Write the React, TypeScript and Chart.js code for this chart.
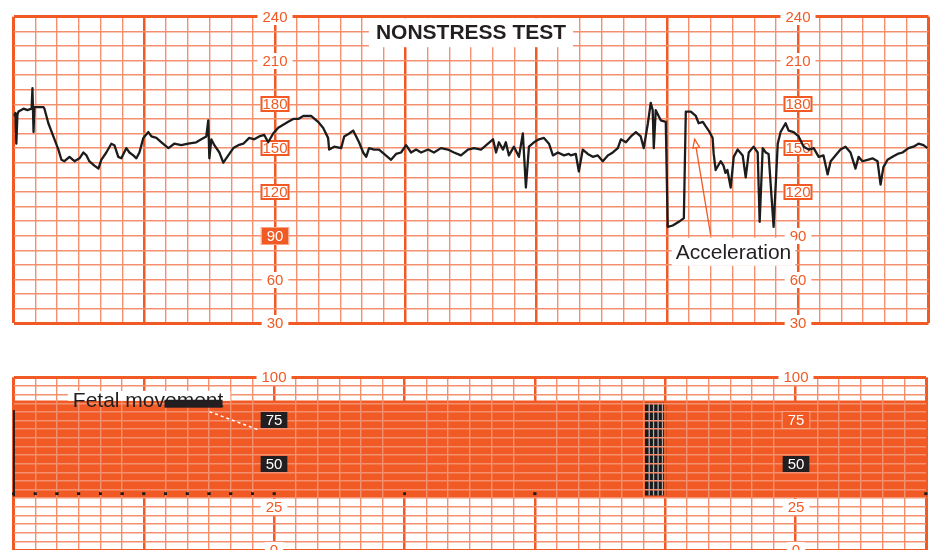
import React, { useEffect, useRef } from "react";
import { Chart, registerables } from "chart.js";
Chart.register(...registerables);

// ---------- data ----------
// Fetal heart rate trace: time in seconds, heart rate in bpm
const fhrTime = [
  0, 0.9, 1.3, 1.8, 2.3, 4.6, 6.4, 8.3, 8.7, 9.2, 9.6, 11.9, 13.8, 14.2, 16.0, 18.3, 20.6, 22.0, 23.4, 25.7,
  28.0, 30.3, 32.1, 33.5, 34.8, 37.1, 39.0, 40.3, 42.6, 44.9, 46.3, 48.1, 49.5, 51.8, 53.2, 55.0, 56.4, 57.8, 59.6, 61.9,
  63.3, 65.6, 67.9, 71.1, 73.8, 77.0, 80.2, 83.9, 86.2, 88.5, 89.4, 89.9, 90.8, 92.2, 94.5, 96.3, 98.6, 100.9, 103.2, 105.5,
  108.2, 110.5, 112.8, 115.1, 116.9, 119.2, 121.5, 123.8, 126.1, 128.4, 130.7, 133.0, 136.6, 139.8, 142.1, 144.4, 144.9, 147.2, 150.4, 151.8,
  154.1, 155.9, 157.3, 158.6, 160.5, 161.9, 163.2, 165.5, 167.8, 170.1, 173.3, 175.6, 177.9, 180.2, 182.5, 184.8, 187.1, 190.3, 193.0, 196.2,
  199.4, 202.2, 205.4, 208.6, 211.4, 214.6, 217.8, 220.1, 221.5, 222.8, 224.7, 226.0, 227.4, 229.7, 232.0, 233.8, 235.2, 236.6, 238.9, 241.2,
  243.5, 245.8, 247.6, 249.9, 252.7, 254.9, 255.8, 258.1, 259.5, 261.3, 263.6, 265.9, 268.2, 270.5, 272.8, 275.1, 277.4, 278.8, 281.1, 283.4,
  285.7, 287.9, 289.3, 291.2, 292.5, 293.4, 293.9, 294.8, 297.1, 299.4, 300.3, 302.6, 305.4, 307.7, 308.6, 310.9, 313.2, 314.5, 316.4, 317.7,
  319.1, 320.9, 321.4, 322.3, 324.6, 325.9, 326.8, 327.7, 329.2, 330.6, 332.4, 334.7, 336.1, 337.5, 339.7, 341.6, 342.5, 343.9, 345.3, 346.6,
  348.9, 350.8, 352.1, 354.4, 355.8, 358.1, 360.4, 362.7, 365.0, 367.3, 369.6, 371.8, 373.7, 375.1, 377.3, 379.6, 381.9, 384.2, 386.5, 387.9,
  389.7, 392.0, 394.3, 396.6, 398.0, 399.3, 401.2, 403.5, 405.8, 408.1, 410.8, 413.1, 415.4, 417.7, 419.5,
];
const fhrBpm = [
  172, 174, 153, 173, 175, 177, 176, 177, 191, 161, 178, 178, 178, 177, 167, 158, 149, 142, 141, 144,
  141, 143, 147, 145, 141, 138, 136, 142, 147, 153, 152, 144, 143, 150, 147, 145, 143, 147, 157, 161,
  158, 157, 154, 150, 153, 152, 153, 154, 156, 158, 169, 143, 156, 152, 147, 140, 145, 150, 152, 153,
  157, 156, 158, 159, 154, 160, 164, 166, 168, 170, 170, 172, 172, 168, 164, 157, 149, 151, 150, 158,
  160, 162, 158, 154, 147, 144, 150, 149, 149, 146, 142, 146, 147, 152, 147, 149, 147, 149, 147, 150,
  149, 147, 145, 149, 150, 149, 153, 156, 147, 154, 149, 154, 145, 151, 144, 160, 123, 151, 154, 156,
  157, 153, 145, 147, 145, 146, 145, 146, 134, 149, 146, 144, 145, 141, 145, 147, 150, 156, 154, 158,
  161, 158, 150, 167, 181, 176, 150, 176, 169, 168, 96, 97, 99.5, 102, 175, 175, 172, 167, 168, 165,
  162, 157, 146, 135, 141, 138, 133, 135, 123, 144, 149, 145, 130, 147, 151, 147, 99.5, 150, 147, 146,
  96, 153, 161, 167, 162, 161, 158, 151, 149, 150, 144, 145, 132, 141, 145, 149, 151, 147, 136, 144,
  141, 142, 143, 141, 125, 137, 142, 144, 146, 147, 150, 151, 153, 152, 150,
];

const stripRange = [0, 420]; // seconds
const fhrRange = [30, 240]; // bpm
const uaRange = [0, 100]; // mmHg
const fhrTicks = [240, 210, 180, 150, 120, 90, 60, 30];
const uaTicks = [100, 75, 50, 25, 0];
const labelAxisTimes = [120, 360];
const fhrLabelStyles: Record<number, string>[] = [
  { 180: "box", 150: "box", 120: "box", 90: "fill" },
  { 180: "box", 150: "box", 120: "box" },
];
const uaLabelStyles: Record<number, string>[] = [
  { 75: "dark", 50: "dark" },
  { 75: "fill", 50: "dark" },
];

// uterine-activity channel marks
const uaBand = [86.6, 30.7]; // top, bottom
const movementBlockTimes = [290.6, 300.6];
const movementBlockRange = [85.3, 31.5];
const movementStripeTimes = [292.6, 294.6, 296.7, 298.7];
const baselineMarkTimes = [0, 10, 20, 30, 40, 50, 60, 70, 80, 90, 100, 110, 120, 180, 240, 420];
const baselineMarkValue = 32.6;
const edgeMarkTime = 0.2;
const edgeMarkRange = [31, 81];

const chartTitle = "NONSTRESS TEST";
const accelLabel = "Acceleration";
const movementLabel = "Fetal movement";
const accelArrowTip = [312.7, 156];
const accelArrowTail = [320, 90.5];
const accelTextAt = [330.5, 79];

// ---------- style ----------
const ORANGE = "#f15a24";
const MINOR = "#f4906f";
const INK = "#231f20";
const FONT = '"Liberation Sans", Arial, Helvetica, sans-serif';

function xScale(z: number) {
  return {
    type: "linear",
    min: stripRange[0],
    max: stripRange[1],
    ticks: { display: false, stepSize: 10, autoSkip: false },
    grid: {
      z,
      drawTicks: false,
      color: (c: any) => (c.tick && c.tick.value % 60 === 0 ? ORANGE : MINOR),
      lineWidth: (c: any) => {
        const v = c.tick ? c.tick.value : 1;
        if (v === stripRange[0] || v === stripRange[1]) return 3;
        return v % 60 === 0 ? 2.5 : 1.4;
      },
    },
    border: { display: false },
  };
}

function yScale(min: number, max: number, step: number, z: number, thick: number[]) {
  return {
    type: "linear",
    min,
    max,
    ticks: { display: false, stepSize: step, autoSkip: false },
    grid: {
      z,
      drawTicks: false,
      color: (c: any) => (c.tick && thick.includes(c.tick.value) ? ORANGE : MINOR),
      lineWidth: (c: any) => (c.tick && thick.includes(c.tick.value) ? 3 : 1.4),
    },
    border: { display: false },
  };
}

function drawAxisLabels(chart: any, ticks: number[], times: number[], styles: Record<number, string>[]) {
  const { ctx, scales } = chart;
  const xs = scales.x;
  const ys = scales.y;
  ctx.save();
  ctx.font = `15px ${FONT}`;
  ctx.textAlign = "center";
  ctx.textBaseline = "middle";
  times.forEach((t, ai) => {
    const px = Math.round(xs.getPixelForValue(t));
    ticks.forEach((v) => {
      const py = Math.round(ys.getPixelForValue(v));
      const label = String(v);
      const w = ctx.measureText(label).width;
      const st = styles[ai][v] || "plain";
      let color = ORANGE;
      if (st === "plain") {
        ctx.fillStyle = "#fff";
        ctx.fillRect(px - w / 2 - 5, py - 8, w + 10, 16);
      } else if (st === "box") {
        ctx.fillStyle = "#fff";
        ctx.fillRect(px - w / 2 - 2, py - 8, w + 4, 16);
        ctx.strokeStyle = ORANGE;
        ctx.lineWidth = 2;
        ctx.strokeRect(px - w / 2 - 1, py - 7, w + 2, 14);
      } else if (st === "fill") {
        ctx.fillStyle = ORANGE;
        ctx.fillRect(px - w / 2 - 5, py - 8, w + 10, 16);
        ctx.strokeStyle = "#f7a482";
        ctx.lineWidth = 1;
        ctx.strokeRect(px - w / 2 - 5.5, py - 8.5, w + 11, 17);
        color = "#fff";
      } else if (st === "dark") {
        ctx.fillStyle = INK;
        ctx.fillRect(px - w / 2 - 5, py - 8, w + 10, 16);
        color = "#fff";
      }
      ctx.fillStyle = color;
      ctx.fillText(label, px, py + 1);
    });
  });
  ctx.restore();
}

const topPlugin = {
  id: "nstTop",
  beforeDatasetsDraw(chart: any) {
    drawAxisLabels(chart, fhrTicks, labelAxisTimes, fhrLabelStyles);
    const { ctx, chartArea } = chart;
    const cx = (chartArea.left + chartArea.right) / 2;
    ctx.save();
    ctx.font = `bold 21px ${FONT}`;
    const w = ctx.measureText(chartTitle).width;
    ctx.fillStyle = "#fff";
    ctx.fillRect(cx - w / 2 - 7, chartArea.top + 1.5, w + 14, 29);
    ctx.fillStyle = INK;
    ctx.textAlign = "center";
    ctx.textBaseline = "middle";
    ctx.fillText(chartTitle, cx, chartArea.top + 17);
    ctx.restore();
  },
  afterDatasetsDraw(chart: any) {
    const { ctx, scales } = chart;
    const xs = scales.x;
    const ys = scales.y;
    const tipX = xs.getPixelForValue(accelArrowTip[0]);
    const tipY = ys.getPixelForValue(accelArrowTip[1]);
    const tailX = xs.getPixelForValue(accelArrowTail[0]);
    const tailY = ys.getPixelForValue(accelArrowTail[1]);
    ctx.save();
    ctx.strokeStyle = ORANGE;
    ctx.lineWidth = 1.3;
    ctx.beginPath();
    ctx.moveTo(tailX, tailY);
    ctx.lineTo(tipX, tipY);
    ctx.stroke();
    const a = Math.atan2(tipY - tailY, tipX - tailX);
    const L = 9;
    ctx.beginPath();
    ctx.moveTo(tipX, tipY);
    ctx.lineTo(tipX - L * Math.cos(a - 0.38), tipY - L * Math.sin(a - 0.38));
    ctx.lineTo(tipX - L * Math.cos(a + 0.38), tipY - L * Math.sin(a + 0.38));
    ctx.closePath();
    ctx.fillStyle = "#fff";
    ctx.fill();
    ctx.stroke();
    const tx = xs.getPixelForValue(accelTextAt[0]);
    const ty = ys.getPixelForValue(accelTextAt[1]);
    ctx.font = `21px ${FONT}`;
    const w = ctx.measureText(accelLabel).width;
    ctx.fillStyle = "#fff";
    ctx.fillRect(tx - w / 2 - 4, ty - 14, w + 8, 28);
    ctx.fillStyle = INK;
    ctx.textAlign = "center";
    ctx.textBaseline = "middle";
    ctx.fillText(accelLabel, tx, ty + 1);
    ctx.restore();
  },
};

const bottomPlugin = {
  id: "nstBottom",
  afterDraw(chart: any) {
    const { ctx, scales } = chart;
    const xs = scales.x;
    const ys = scales.y;
    // edge line and baseline marks sit on top of the grid
    [3, 4].forEach((i) => {
      const meta = chart.getDatasetMeta(i);
      if (meta && meta.controller) meta.controller.draw();
    });
    ctx.save();
    const lx = xs.getPixelForValue(27.3);
    const top = ys.getPixelForValue(92.2);
    const bot = ys.getPixelForValue(86.4);
    ctx.font = `21px ${FONT}`;
    const w = ctx.measureText(movementLabel).width;
    ctx.fillStyle = "#fff";
    ctx.fillRect(lx - 5, top, w + 12, bot - top);
    ctx.fillStyle = INK;
    ctx.textAlign = "left";
    ctx.textBaseline = "alphabetic";
    ctx.fillText(movementLabel, lx, ys.getPixelForValue(83));
    const bx0 = xs.getPixelForValue(69.5);
    const bx1 = xs.getPixelForValue(96.2);
    const by0 = ys.getPixelForValue(87);
    const by1 = ys.getPixelForValue(82.4);
    ctx.fillRect(bx0, by0, bx1 - bx0, by1 - by0);
    ctx.strokeStyle = "#fff";
    ctx.lineWidth = 1.5;
    ctx.setLineDash([3, 3]);
    ctx.beginPath();
    ctx.moveTo(xs.getPixelForValue(90.2), ys.getPixelForValue(80.1));
    ctx.lineTo(xs.getPixelForValue(112.2), ys.getPixelForValue(69.8));
    ctx.stroke();
    ctx.setLineDash([]);
    ctx.restore();
    drawAxisLabels(chart, uaTicks, labelAxisTimes, uaLabelStyles);
  },
};

export default function App() {
  const topRef = useRef<HTMLCanvasElement>(null);
  const botRef = useRef<HTMLCanvasElement>(null);

  useEffect(() => {
    const common = {
      responsive: false,
      animation: false,
      events: [],
      plugins: { legend: { display: false }, tooltip: { enabled: false }, title: { display: false } },
    };

    const top = new Chart(topRef.current as HTMLCanvasElement, {
      type: "line",
      data: {
        datasets: [
          {
            label: "FHR",
            data: fhrTime.map((t, i) => ({ x: t, y: fhrBpm[i] })),
            borderColor: "#1c1c1c",
            borderWidth: 2.3,
            pointRadius: 0,
            tension: 0,
            fill: false,
            borderJoinStyle: "round",
          },
        ],
      },
      options: {
        ...common,
        layout: { padding: { left: 13.5, right: 1.5, top: 16.7, bottom: 16.7 } },
        scales: {
          x: xScale(-1),
          y: yScale(fhrRange[0], fhrRange[1], 10, -1, [fhrRange[0], fhrRange[1]]),
        },
      } as any,
      plugins: [topPlugin],
    } as any);

    const stripes: any[] = [];
    movementStripeTimes.forEach((t) => {
      stripes.push({ x: t, y: movementBlockRange[1] }, { x: t, y: movementBlockRange[0] }, { x: t, y: null });
    });

    const bottom = new Chart(botRef.current as HTMLCanvasElement, {
      type: "line",
      data: {
        datasets: [
          {
            label: "UA band",
            order: 3,
            data: [
              { x: stripRange[0], y: uaBand[0] },
              { x: stripRange[1], y: uaBand[0] },
            ],
            borderWidth: 0,
            borderColor: "rgba(0,0,0,0)",
            backgroundColor: ORANGE,
            pointRadius: 0,
            fill: { value: uaBand[1] },
          },
          {
            label: "movement block",
            order: 2,
            data: [
              { x: movementBlockTimes[0], y: movementBlockRange[0] },
              { x: movementBlockTimes[1], y: movementBlockRange[0] },
            ],
            borderWidth: 0,
            borderColor: "rgba(0,0,0,0)",
            backgroundColor: "#1a1a1a",
            pointRadius: 0,
            fill: { value: movementBlockRange[1] },
          },
          {
            label: "movement stripes",
            order: 1,
            data: stripes,
            borderColor: "rgba(190,190,190,0.9)",
            borderWidth: 1.3,
            pointRadius: 0,
            spanGaps: false,
            fill: false,
          },
          {
            label: "edge mark",
            order: 0,
            data: [
              { x: edgeMarkTime, y: edgeMarkRange[0] },
              { x: edgeMarkTime, y: edgeMarkRange[1] },
            ],
            borderColor: "#1a1a1a",
            borderWidth: 2,
            pointRadius: 0,
            fill: false,
          },
          {
            label: "baseline marks",
            order: 0,
            data: baselineMarkTimes.map((t) => ({ x: t, y: baselineMarkValue })),
            showLine: false,
            borderWidth: 0,
            borderColor: "rgba(0,0,0,0)",
            pointStyle: "rect",
            pointRadius: 2,
            pointBackgroundColor: "#1a1a1a",
            pointBorderWidth: 0,
            pointBorderColor: "rgba(0,0,0,0)",
            fill: false,
          },
        ],
      },
      options: {
        ...common,
        layout: { padding: { left: 13.5, right: 1.5, top: 37.3, bottom: 2 } },
        scales: {
          x: xScale(1),
          y: yScale(uaRange[0], uaRange[1], 5, 1, [uaRange[0], uaRange[1]]),
        },
      } as any,
      plugins: [bottomPlugin],
    } as any);

    return () => {
      top.destroy();
      bottom.destroy();
    };
  }, []);

  return (
    <div
      style={{
        position: "fixed",
        left: 0,
        top: 0,
        width: 930,
        height: 550,
        background: "#fff",
        overflow: "hidden",
      }}
    >
      <canvas
        ref={topRef}
        width={930}
        height={340}
        style={{ position: "absolute", left: 0, top: 0, width: 930, height: 340 }}
      />
      <canvas
        ref={botRef}
        width={930}
        height={214}
        style={{ position: "absolute", left: 0, top: 340, width: 930, height: 214 }}
      />
    </div>
  );
}
